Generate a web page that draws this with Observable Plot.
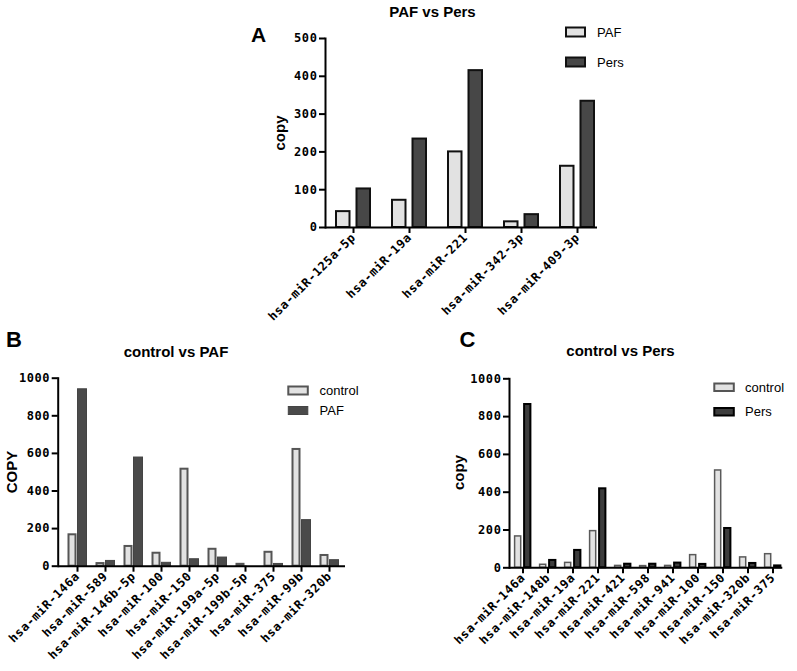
<!DOCTYPE html>
<html><head><meta charset="utf-8">
<script src="https://cdn.jsdelivr.net/npm/d3@7"></script>
<script src="https://cdn.jsdelivr.net/npm/@observablehq/plot@0.6"></script>
<style>
body{margin:0;background:#fff;}
#root{position:relative;width:797px;height:671px;overflow:hidden;background:#fff;}
#root svg{position:absolute;left:0;top:0;overflow:visible;}
</style></head><body><div id="root"></div>
<script>
// ---- data ----
const catsA = ["hsa-miR-125a-5p","hsa-miR-19a","hsa-miR-221","hsa-miR-342-3p","hsa-miR-409-3p"];
const pafA = [42, 72, 200, 15, 162];
const persA = [102, 234, 415, 34, 334];
const yTicksA = [0, 100, 200, 300, 400, 500];

const catsB = ["hsa-miR-146a","hsa-miR-589","hsa-miR-146b-5p","hsa-miR-100","hsa-miR-150","hsa-miR-199a-5p","hsa-miR-199b-5p","hsa-miR-375","hsa-miR-99b","hsa-miR-320b"];
const controlB = [167, 14, 105, 69, 516, 90, 10, 74, 621, 57];
const pafB = [941, 28, 578, 18, 37, 46, 0, 12, 245, 32];

const catsC = ["hsa-miR-146a","hsa-miR-148b","hsa-miR-19a","hsa-miR-221","hsa-miR-421","hsa-miR-598","hsa-miR-941","hsa-miR-100","hsa-miR-150","hsa-miR-320b","hsa-miR-375"];
const controlC = [166, 16, 26, 194, 10, 9, 10, 67, 515, 55, 72];
const persC = [864, 39, 92, 418, 19, 19, 25, 18, 208, 23, 10];
const yTicksBC = [0, 200, 400, 600, 800, 1000];

const LIGHT = "#e2e2e2";

const root = document.getElementById("root");

function panel(o) {
  const d1 = o.cats.map((c, i) => ({cat: c, v: o.s1[i]}));
  const d2 = o.cats.map((c, i) => ({cat: c, v: o.s2[i]}));
  return Plot.plot({
    width: 797, height: 671,
    marginLeft: o.ml, marginTop: o.mt, marginBottom: o.mb, marginRight: o.mr,
    x: {domain: o.cats, range: o.xr, padding: 0},
    y: {domain: [0, o.yMax]},
    style: {background: "transparent", fontFamily: "'DejaVu Sans Mono', monospace", fontSize: "12px", fontWeight: "bold", letterSpacing: "0.6px", color: "#000", overflow: "visible"},
    marks: [
      Plot.barY(d1, {x: "cat", y: "v", ...o.bar1}),
      Plot.barY(d2, {x: "cat", y: "v", ...o.bar2}),
      Plot.ruleY([0], {stroke: "#000", strokeWidth: 2}),
      Plot.frame({anchor: "left", stroke: "#000", strokeWidth: 2}),
      Plot.axisY({ticks: o.yTicks, tickSize: 6, tickPadding: 2, strokeWidth: 2, label: null, tickFormat: d3.format("d")}),
      Plot.axisX({tickSize: 6, tickPadding: 2, tickRotate: -45, strokeWidth: 2, label: null})
    ]
  });
}

root.append(panel({
  cats: catsA, s1: pafA, s2: persA, yMax: 500, yTicks: yTicksA,
  ml: 325, mt: 38, mb: 444, mr: 200, xr: [324.6, 605.8],
  bar1: {fill: LIGHT, stroke: "#111", strokeWidth: 2, insetLeft: 11, insetRight: 31.5},
  bar2: {fill: "#474747", stroke: "#111", strokeWidth: 2, insetLeft: 31.5, insetRight: 11}
}));

root.append(panel({
  cats: catsB, s1: controlB, s2: pafB, yMax: 1000, yTicks: yTicksBC,
  ml: 57.7, mt: 377.7, mb: 105.3, mr: 452, xr: [62.95, 343.95],
  bar1: {fill: LIGHT, stroke: "#555", strokeWidth: 2, insetLeft: 5.5, insetRight: 15.5},
  bar2: {fill: "#4a4a4a", stroke: "#444", strokeWidth: 1, insetLeft: 14.5, insetRight: 4.5}
}));

root.append(panel({
  cats: catsC, s1: controlC, s2: persC, yMax: 1000, yTicks: yTicksBC,
  ml: 509, mt: 378.3, mb: 103.7, mr: 14.7, xr: [509.4, 786.3],
  bar1: {fill: LIGHT, stroke: "#5a5a5a", strokeWidth: 1.5, insetLeft: 4.6, insetRight: 14.3},
  bar2: {fill: "#3d3d3d", stroke: "#000", strokeWidth: 2, insetLeft: 14.1, insetRight: 4.6}
}));

// ---- annotation overlay: titles, panel letters, axis titles, legends ----
const svg = d3.select(root).append("svg").attr("width", 797).attr("height", 671)
  .style("font-family", "'Liberation Sans', Arial, sans-serif");

function txt(x, y, s, size, weight, anchor, rot) {
  const t = svg.append("text").text(s).attr("font-size", size).attr("font-weight", weight)
    .attr("text-anchor", anchor || "start").attr("fill", "#000");
  if (rot) t.attr("transform", `translate(${x},${y}) rotate(${rot})`);
  else t.attr("x", x).attr("y", y);
}
txt(432.5, 16.7, "PAF vs Pers", 15, "bold", "middle");
txt(176, 356.7, "control vs PAF", 15, "bold", "middle");
txt(620.5, 355.5, "control vs Pers", 15, "bold", "middle");
txt(251, 41.7, "A", 21, "bold");
txt(6, 346.7, "B", 22, "bold");
txt(459.5, 346.7, "C", 22, "bold");
txt(285, 133, "copy", 15, "bold", "middle", -90);
txt(17.3, 472, "COPY", 15, "bold", "middle", -90);
txt(464, 472.5, "copy", 15, "bold", "middle", -90);

const legendSeriesA = ["PAF", "Pers"];
const legendSeriesB = ["control", "PAF"];
const legendSeriesC = ["control", "Pers"];
function legend(names, x, ys, w, h, styles, lx) {
  names.forEach((n, i) => {
    svg.append("rect").attr("x", x).attr("y", ys[i]).attr("width", w).attr("height", h)
      .attr("fill", styles[i].fill).attr("stroke", styles[i].stroke).attr("stroke-width", styles[i].sw);
    txt(lx, ys[i] + h / 2 + 4.6, n, 13, "normal");
  });
}
legend(legendSeriesA, 566, [27.5, 57.5], 19, 9,
  [{fill: LIGHT, stroke: "#111", sw: 2}, {fill: "#474747", stroke: "#111", sw: 2}], 597);
legend(legendSeriesB, 288.3, [386.5, 406.5], 19.5, 8,
  [{fill: LIGHT, stroke: "#555", sw: 2}, {fill: "#4a4a4a", stroke: "#444", sw: 1}], 319.5);
legend(legendSeriesC, 714.3, [383.5, 408], 19.5, 7.5,
  [{fill: LIGHT, stroke: "#555", sw: 2}, {fill: "#3d3d3d", stroke: "#000", sw: 2}], 745);
</script></body></html>
